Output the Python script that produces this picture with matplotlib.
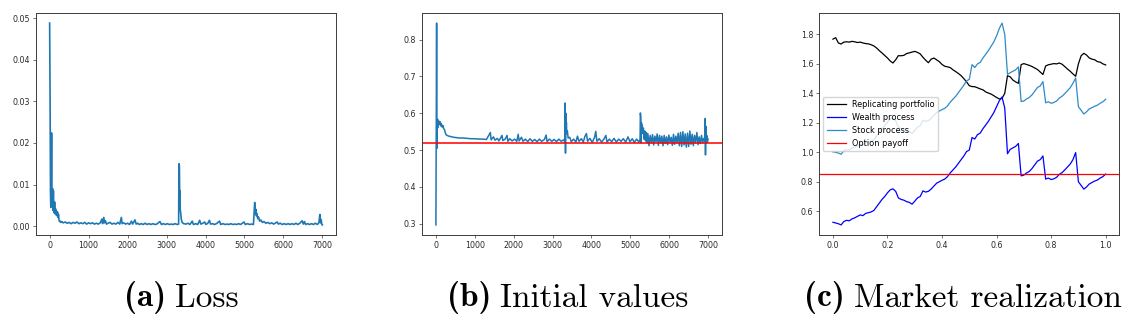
import os
import matplotlib
matplotlib.use("Agg")
import matplotlib.pyplot as plt
from matplotlib.font_manager import FontProperties

# ---------------- data ----------------
# (a) training loss
loss_iter = [0, 12, 22, 30, 40, 50, 58, 66, 76, 86, 96, 106, 116, 128, 140, 152, 165, 178, 190, 202,
             215, 228, 240, 255, 270, 290, 310, 350, 400, 450, 500, 550, 600, 650, 700, 750, 800, 850,
             900, 950, 1000, 1050, 1100, 1150, 1200, 1250, 1300, 1340, 1360, 1390, 1410, 1430, 1460,
             1500, 1550, 1600, 1650, 1700, 1750, 1800, 1840, 1860, 1900, 1950, 2000, 2050, 2100, 2130,
             2190, 2220, 2260, 2300, 2350, 2400, 2450, 2500, 2550, 2600, 2650, 2700, 2750, 2830, 2870,
             2920, 2970, 3020, 3070, 3120, 3170, 3220, 3270, 3310, 3320, 3330, 3338, 3345, 3352, 3365,
             3380, 3400, 3440, 3500, 3550, 3600, 3660, 3690, 3750, 3800, 3850, 3880, 3930, 3980, 4010,
             4060, 4100, 4130, 4180, 4230, 4280, 4360, 4390, 4450, 4500, 4550, 4600, 4650, 4700, 4750,
             4800, 4850, 4900, 4990, 5020, 5080, 5130, 5180, 5230, 5262, 5272, 5282, 5292, 5305, 5320,
             5340, 5360, 5390, 5420, 5460, 5500, 5550, 5600, 5650, 5700, 5750, 5840, 5870, 5920, 5970,
             6020, 6070, 6120, 6170, 6220, 6270, 6320, 6370, 6420, 6480, 6510, 6540, 6570, 6620, 6670,
             6720, 6770, 6820, 6870, 6910, 6935, 6945, 6955, 6970, 6985, 6999]
loss_val = [0.0488, 0.0300, 0.0080, 0.0045, 0.0065, 0.0224, 0.0060, 0.0048, 0.0090, 0.0038, 0.0085,
            0.0042, 0.0032, 0.0058, 0.0030, 0.0042, 0.0027, 0.0036, 0.0025, 0.0034, 0.0021, 0.0028,
            0.0015, 0.0011, 0.0012, 0.0009, 0.0011, 0.0008, 0.0010, 0.0007, 0.0009, 0.0006, 0.0009,
            0.0007, 0.0010, 0.0006, 0.0008, 0.0006, 0.0009, 0.0005, 0.0008, 0.0006, 0.0008, 0.0005,
            0.0007, 0.0005, 0.0008, 0.0017, 0.0006, 0.0021, 0.0008, 0.0013, 0.0005, 0.0007, 0.0009,
            0.0005, 0.0007, 0.0005, 0.0009, 0.0005, 0.0021, 0.0006, 0.0008, 0.0005, 0.0007, 0.0004,
            0.0012, 0.0005, 0.0015, 0.0005, 0.0007, 0.0004, 0.0006, 0.0004, 0.0007, 0.0004, 0.0006,
            0.0004, 0.0006, 0.0004, 0.0005, 0.0011, 0.0004, 0.0006, 0.0004, 0.0006, 0.0004, 0.0005,
            0.0004, 0.0006, 0.0004, 0.0005, 0.0150, 0.0145, 0.0070, 0.0085, 0.0040, 0.0030, 0.0016,
            0.0009, 0.0006, 0.0005, 0.0007, 0.0004, 0.0012, 0.0004, 0.0006, 0.0004, 0.0014, 0.0005,
            0.0007, 0.0010, 0.0004, 0.0007, 0.0014, 0.0005, 0.0006, 0.0004, 0.0006, 0.0012, 0.0004,
            0.0006, 0.0004, 0.0005, 0.0004, 0.0006, 0.0004, 0.0005, 0.0004, 0.0006, 0.0004, 0.0010,
            0.0004, 0.0006, 0.0004, 0.0005, 0.0004, 0.0057, 0.0052, 0.0030, 0.0040, 0.0025, 0.0030,
            0.0018, 0.0022, 0.0012, 0.0015, 0.0009, 0.0011, 0.0007, 0.0009, 0.0006, 0.0008, 0.0005,
            0.0010, 0.0005, 0.0007, 0.0004, 0.0006, 0.0004, 0.0006, 0.0004, 0.0006, 0.0004, 0.0007,
            0.0004, 0.0007, 0.0013, 0.0005, 0.0011, 0.0004, 0.0006, 0.0004, 0.0006, 0.0004, 0.0007,
            0.0004, 0.0008, 0.0028, 0.0022, 0.0008, 0.0015, 0.0004, 0.0003]

# (b) learned initial value of the portfolio
init_iter = [0, 18, 26, 34, 45, 60, 80, 100, 120, 140, 160, 180, 200, 220, 240, 260, 290, 330, 380,
             450, 520, 600, 700, 800, 900, 1000, 1100, 1200, 1300, 1400, 1420, 1480, 1520, 1580, 1620,
             1700, 1720, 1780, 1830, 1850, 1900, 1960, 2020, 2080, 2115, 2140, 2200, 2240, 2300, 2360,
             2420, 2480, 2540, 2600, 2660, 2720, 2790, 2834, 2860, 2920, 2980, 3040, 3100, 3160, 3220,
             3280, 3318, 3325, 3332, 3340, 3348, 3356, 3365, 3380, 3400, 3440, 3480, 3540, 3600, 3640,
             3680, 3740, 3790, 3830, 3870, 3900, 3960, 4020, 4080, 4110, 4140, 4200, 4260, 4320, 4370,
             4400, 4460, 4520, 4580, 4640, 4700, 4760, 4820, 4880, 4940, 4990, 5050, 5100, 5160, 5220,
             5250, 5258, 5268, 5275, 5285, 5295, 5305, 5320, 5335, 5350, 5370, 5390, 5410, 5430, 5450,
             5480, 5510, 5540, 5570, 5600, 5630, 5660, 5690, 5720, 5750, 5780, 5810, 5840, 5870, 5900,
             5930, 5960, 5990, 6020, 6050, 6080, 6110, 6140, 6170, 6200, 6230, 6260, 6290, 6320, 6350,
             6380, 6410, 6440, 6470, 6500, 6530, 6560, 6590, 6620, 6650, 6680, 6710, 6740, 6770, 6800,
             6830, 6860, 6890, 6915, 6925, 6932, 6940, 6950, 6965, 6980, 6999]
init_val = [0.297, 0.845, 0.505, 0.585, 0.560, 0.582, 0.570, 0.578, 0.566, 0.572, 0.563, 0.567, 0.558,
            0.556, 0.548, 0.542, 0.540, 0.538, 0.537, 0.535, 0.534, 0.533, 0.533, 0.532, 0.531, 0.531,
            0.530, 0.530, 0.529, 0.548, 0.528, 0.536, 0.527, 0.532, 0.525, 0.540, 0.526, 0.530, 0.540,
            0.524, 0.531, 0.525, 0.530, 0.524, 0.543, 0.525, 0.535, 0.524, 0.530, 0.523, 0.531, 0.524,
            0.529, 0.523, 0.530, 0.524, 0.529, 0.541, 0.523, 0.530, 0.524, 0.529, 0.523, 0.530, 0.524,
            0.528, 0.522, 0.628, 0.492, 0.600, 0.560, 0.575, 0.545, 0.552, 0.533, 0.535, 0.523, 0.530,
            0.522, 0.538, 0.524, 0.531, 0.522, 0.537, 0.545, 0.524, 0.532, 0.521, 0.535, 0.551, 0.524,
            0.531, 0.522, 0.530, 0.540, 0.522, 0.530, 0.523, 0.532, 0.522, 0.530, 0.524, 0.531, 0.522,
            0.536, 0.523, 0.531, 0.521, 0.530, 0.522, 0.530, 0.601, 0.590, 0.520, 0.575, 0.555, 0.568,
            0.545, 0.560, 0.530, 0.552, 0.525, 0.548, 0.520, 0.545, 0.512, 0.540, 0.520, 0.542, 0.514,
            0.538, 0.522, 0.544, 0.513, 0.540, 0.520, 0.538, 0.512, 0.540, 0.518, 0.536, 0.515, 0.541,
            0.521, 0.535, 0.513, 0.543, 0.516, 0.538, 0.520, 0.546, 0.512, 0.548, 0.510, 0.550, 0.514,
            0.544, 0.508, 0.546, 0.510, 0.552, 0.516, 0.543, 0.512, 0.540, 0.520, 0.548, 0.515, 0.536,
            0.518, 0.540, 0.520, 0.532, 0.525, 0.586, 0.487, 0.565, 0.520, 0.540, 0.522, 0.530]
true_price = 0.52

# (c) one simulated market path
t = [i / 100 for i in range(101)]
replicating = [1.768, 1.778, 1.742, 1.735, 1.748, 1.750, 1.748, 1.753, 1.750, 1.745, 1.748, 1.742,
               1.738, 1.736, 1.730, 1.722, 1.708, 1.690, 1.674, 1.657, 1.640, 1.620, 1.606, 1.628,
               1.656, 1.655, 1.658, 1.670, 1.675, 1.680, 1.685, 1.678, 1.668, 1.645, 1.625, 1.608,
               1.632, 1.640, 1.628, 1.615, 1.596, 1.584, 1.580, 1.575, 1.560, 1.548, 1.535, 1.520,
               1.500, 1.478, 1.452, 1.446, 1.445, 1.438, 1.430, 1.424, 1.410, 1.402, 1.395, 1.384,
               1.372, 1.362, 1.366, 1.400, 1.520, 1.512, 1.490, 1.478, 1.468, 1.595, 1.602, 1.596,
               1.590, 1.582, 1.572, 1.562, 1.545, 1.528, 1.586, 1.594, 1.598, 1.602, 1.600, 1.606,
               1.598, 1.582, 1.565, 1.550, 1.532, 1.516, 1.600, 1.655, 1.672, 1.660, 1.640, 1.632,
               1.628, 1.615, 1.612, 1.600, 1.593]
wealth = [0.525, 0.520, 0.515, 0.507, 0.530, 0.538, 0.535, 0.548, 0.555, 0.565, 0.575, 0.570, 0.585,
          0.590, 0.595, 0.605, 0.630, 0.655, 0.680, 0.700, 0.725, 0.745, 0.752, 0.735, 0.690, 0.680,
          0.675, 0.665, 0.660, 0.648, 0.668, 0.690, 0.700, 0.738, 0.730, 0.735, 0.750, 0.770, 0.790,
          0.800, 0.810, 0.818, 0.835, 0.860, 0.880, 0.900, 0.925, 0.950, 0.975, 1.005, 1.015, 1.100,
          1.090, 1.120, 1.130, 1.160, 1.185, 1.210, 1.240, 1.270, 1.310, 1.350, 1.375, 1.300, 0.990,
          1.020, 1.030, 1.040, 1.060, 0.840, 0.845, 0.860, 0.870, 0.890, 0.915, 0.940, 0.950, 0.975,
          0.818, 0.825, 0.815, 0.820, 0.830, 0.850, 0.862, 0.880, 0.900, 0.920, 0.950, 0.998, 0.800,
          0.775, 0.750, 0.765, 0.785, 0.795, 0.805, 0.812, 0.825, 0.835, 0.852]
stock = [1.003, 1.000, 0.995, 0.987, 1.010, 1.018, 1.015, 1.028, 1.035, 1.045, 1.055, 1.050, 1.065,
         1.070, 1.075, 1.085, 1.110, 1.135, 1.160, 1.180, 1.205, 1.225, 1.232, 1.215, 1.170, 1.160,
         1.155, 1.145, 1.140, 1.128, 1.148, 1.170, 1.180, 1.218, 1.210, 1.215, 1.230, 1.250, 1.270,
         1.280, 1.290, 1.298, 1.315, 1.340, 1.360, 1.380, 1.405, 1.430, 1.455, 1.485, 1.495, 1.595,
         1.575, 1.600, 1.610, 1.640, 1.665, 1.690, 1.720, 1.750, 1.790, 1.840, 1.877, 1.800, 1.530,
         1.540, 1.550, 1.560, 1.580, 1.345, 1.348, 1.362, 1.372, 1.390, 1.415, 1.440, 1.450, 1.480,
         1.336, 1.343, 1.333, 1.338, 1.348, 1.368, 1.380, 1.398, 1.418, 1.438, 1.468, 1.505, 1.310,
         1.285, 1.260, 1.275, 1.295, 1.303, 1.313, 1.320, 1.333, 1.343, 1.360]
option_payoff = 0.855

panel_tags = ["(a)", "(b)", "(c)"]
panel_titles = ["Loss", "Initial values", "Market realization"]

# ---------------- style ----------------
plt.rcParams["font.family"] = "DejaVu Sans"
TICK_FS = 5.7
LEG_FS = 5.9
SPINE_C = "#3c3c3c"

fig = plt.figure(figsize=(11.28, 3.24), dpi=100)
bottom, height = 1 - 235 / 324, 222 / 324
ax_a = fig.add_axes([36 / 1128, bottom, 300 / 1128, height])
ax_b = fig.add_axes([422.3 / 1128, bottom, 299.4 / 1128, height])
ax_c = fig.add_axes([819.3 / 1128, bottom, 300 / 1128, height])

for ax in (ax_a, ax_b, ax_c):
    for s in ax.spines.values():
        s.set_color(SPINE_C)
        s.set_linewidth(0.7)
    ax.tick_params(labelsize=TICK_FS, length=2.3, width=0.5, pad=2.0,
                   color=SPINE_C, labelcolor="#2a2a2a")

# (a)
ax_a.plot(loss_iter, loss_val, color="tab:blue", lw=1.2)
ax_a.set_xticks(range(0, 7001, 1000))
ax_a.set_yticks([0.0, 0.01, 0.02, 0.03, 0.04, 0.05])
ax_a.set_yticklabels(["0.00", "0.01", "0.02", "0.03", "0.04", "0.05"])

# (b)
ax_b.plot(init_iter, init_val, color="tab:blue", lw=1.1)
ax_b.axhline(true_price, color="red", lw=1.4, alpha=0.8)
ax_b.set_xticks(range(0, 7001, 1000))
ax_b.set_yticks([0.3, 0.4, 0.5, 0.6, 0.7, 0.8])

# (c)
ax_c.plot(t, replicating, color="black", lw=0.9, label="Replicating portfolio")
ax_c.plot(t, wealth, color="blue", lw=0.9, label="Wealth process")
ax_c.plot(t, stock, color="#2e8bc7", lw=0.9, label="Stock process")
ax_c.axhline(option_payoff, color="red", lw=0.9, label="Option payoff")
ax_c.set_xticks([0.0, 0.2, 0.4, 0.6, 0.8, 1.0])
ax_c.set_yticks([0.6, 0.8, 1.0, 1.2, 1.4, 1.6, 1.8])
ax_c.legend(loc="center left", fontsize=LEG_FS, handlelength=2.3, labelspacing=0.5,
            borderpad=0.4, framealpha=0.8, edgecolor="#cccccc", fancybox=True)

# sub-captions: bold tag + roman title in Computer Modern
ttf_dir = os.path.join(matplotlib.get_data_path(), "fonts", "ttf")
CAP_FS = 24
fp_bold = FontProperties(fname=os.path.join(ttf_dir, "cmb10.ttf"), size=CAP_FS)
fp_roman = FontProperties(fname=os.path.join(ttf_dir, "cmr10.ttf"), size=CAP_FS)
renderer = fig.canvas.get_renderer()
cap_y = 1 - 298 / 324
gap_px = 9
for cx, tag, title in zip([181, 568, 963], panel_tags, panel_titles):
    t1 = fig.text(0, cap_y, tag, fontproperties=fp_bold, va="center", ha="left")
    t2 = fig.text(0, cap_y, title, fontproperties=fp_roman, va="center", ha="left")
    w1 = t1.get_window_extent(renderer).width
    w2 = t2.get_window_extent(renderer).width
    x0 = cx - (w1 + gap_px + w2) / 2
    t1.set_x(x0 / 1128)
    t2.set_x((x0 + w1 + gap_px) / 1128)

fig.savefig("out.png", dpi=100)
